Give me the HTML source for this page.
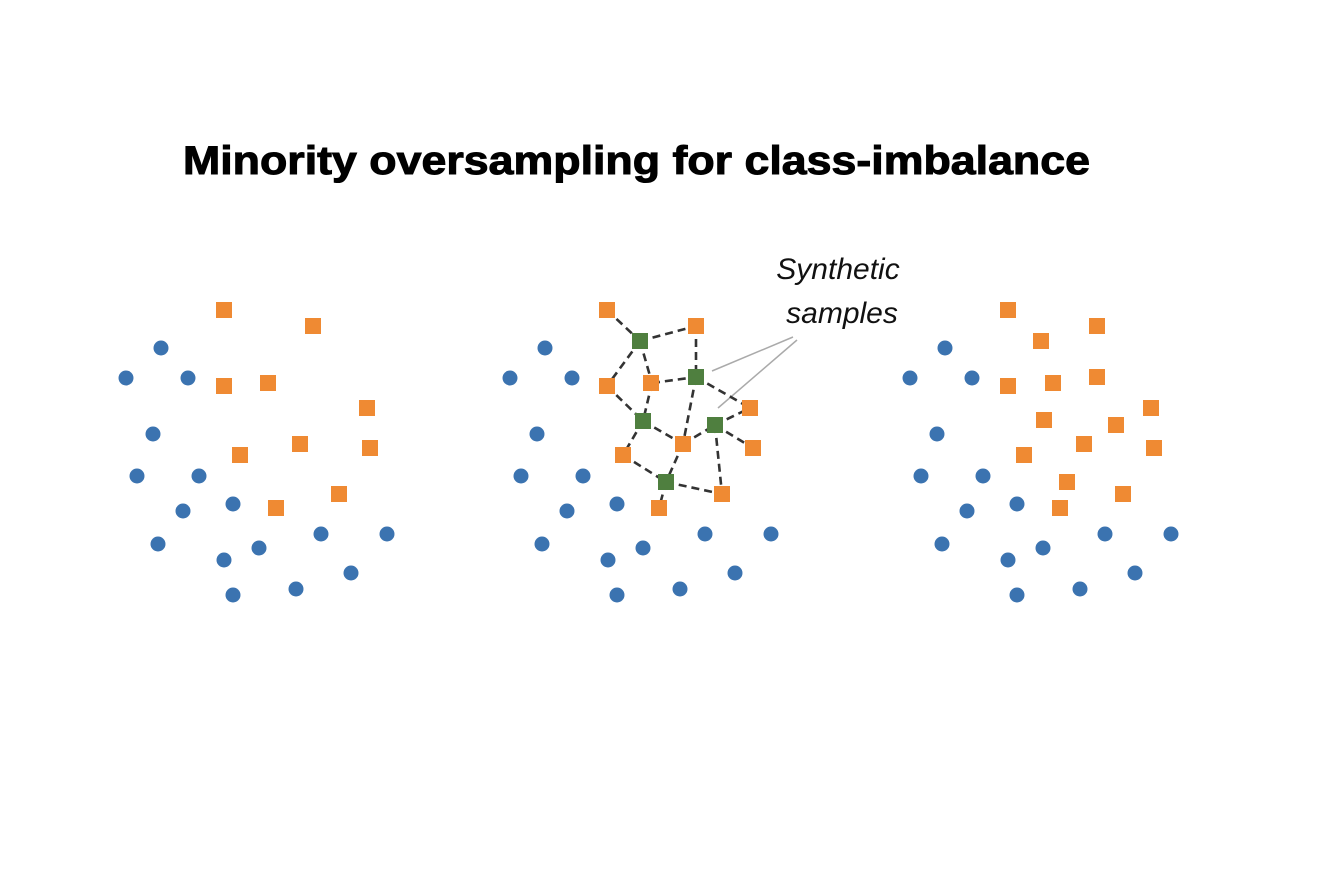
<!DOCTYPE html>
<html><head><meta charset="utf-8"><style>html,body{margin:0;padding:0;background:#fff;}</style></head>
<body>
<svg width="1326" height="872" xmlns="http://www.w3.org/2000/svg">
<rect width="1326" height="872" fill="#fff"/>
<text x="183" y="174" font-family="Liberation Sans, sans-serif" font-weight="bold" font-size="40" textLength="907" lengthAdjust="spacingAndGlyphs" fill="#000" stroke="#000" stroke-width="1">Minority oversampling for class-imbalance</text>
<g font-family="Liberation Sans, sans-serif" font-style="italic" font-size="30" fill="#111" text-anchor="middle">
<text x="838" y="279">Synthetic</text>
<text x="842" y="323">samples</text>
</g>
<g stroke="#aaa" stroke-width="1.5"><line x1="793" y1="337" x2="712" y2="371"/><line x1="797" y1="340" x2="718" y2="408"/></g>
<g stroke="#333" stroke-width="2.6" stroke-dasharray="8,5" fill="none">
<line x1="607" y1="310" x2="640" y2="341"/><line x1="640" y1="341" x2="696" y2="326"/><line x1="640" y1="341" x2="607" y2="386"/><line x1="640" y1="341" x2="652" y2="383"/>
<line x1="696" y1="326" x2="696" y2="377"/><line x1="652" y1="383" x2="696" y2="377"/><line x1="696" y1="377" x2="750" y2="408"/><line x1="696" y1="377" x2="683" y2="444"/>
<line x1="607" y1="386" x2="643" y2="421"/><line x1="652" y1="383" x2="643" y2="421"/><line x1="643" y1="421" x2="683" y2="444"/><line x1="643" y1="421" x2="623" y2="455"/>
<line x1="683" y1="444" x2="715" y2="425"/><line x1="715" y1="425" x2="750" y2="408"/><line x1="715" y1="425" x2="753" y2="448"/><line x1="715" y1="425" x2="722" y2="494"/>
<line x1="623" y1="455" x2="666" y2="482"/><line x1="683" y1="444" x2="666" y2="482"/><line x1="666" y1="482" x2="722" y2="494"/><line x1="666" y1="482" x2="659" y2="508"/>
</g>
<defs>
<circle id="b" r="7.5" fill="#3b73b0"/>
<rect id="o" x="-8" y="-8" width="16" height="16" fill="#ef8a33"/>
<rect id="g" x="-8" y="-8" width="16" height="16" fill="#4f7f3f"/>
<g id="blues">
<use href="#b" x="161" y="348"/><use href="#b" x="126" y="378"/><use href="#b" x="188" y="378"/><use href="#b" x="153" y="434"/><use href="#b" x="137" y="476"/><use href="#b" x="199" y="476"/><use href="#b" x="183" y="511"/><use href="#b" x="233" y="504"/><use href="#b" x="158" y="544"/><use href="#b" x="224" y="560"/><use href="#b" x="259" y="548"/><use href="#b" x="233" y="595"/><use href="#b" x="296" y="589"/><use href="#b" x="321" y="534"/><use href="#b" x="387" y="534"/><use href="#b" x="351" y="573"/>
</g>
<g id="oranges">
<use href="#o" x="224" y="310"/><use href="#o" x="313" y="326"/><use href="#o" x="224" y="386"/><use href="#o" x="268" y="383"/><use href="#o" x="367" y="408"/><use href="#o" x="300" y="444"/><use href="#o" x="370" y="448"/><use href="#o" x="240" y="455"/><use href="#o" x="339" y="494"/><use href="#o" x="276" y="508"/>
</g>
</defs>
<use href="#blues"/><use href="#oranges"/>
<use href="#blues" x="384"/>
<g transform="translate(383,0)"><use href="#oranges"/></g>
<use href="#g" x="640" y="341"/><use href="#g" x="696" y="377"/><use href="#g" x="643" y="421"/><use href="#g" x="715" y="425"/><use href="#g" x="666" y="482"/>
<use href="#blues" x="784"/>
<g>
<use href="#o" x="1008" y="310"/><use href="#o" x="1097" y="326"/><use href="#o" x="1041" y="341"/><use href="#o" x="1008" y="386"/><use href="#o" x="1053" y="383"/><use href="#o" x="1097" y="377"/><use href="#o" x="1151" y="408"/><use href="#o" x="1044" y="420"/><use href="#o" x="1116" y="425"/><use href="#o" x="1084" y="444"/><use href="#o" x="1154" y="448"/><use href="#o" x="1024" y="455"/><use href="#o" x="1067" y="482"/><use href="#o" x="1123" y="494"/><use href="#o" x="1060" y="508"/>
</g>
</svg>
</body></html>
